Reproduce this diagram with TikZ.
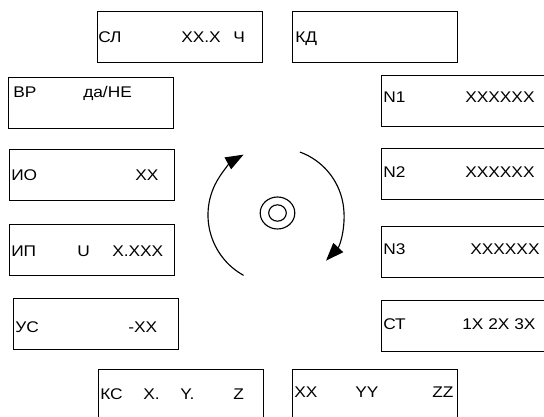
\documentclass[tikz,border=0pt]{standalone}
\usepackage{fontspec}
\setmainfont{Liberation Sans}
\usetikzlibrary{arrows.meta}
\newcommand\sx[1]{\scalebox{1.12}[1]{#1}}
\begin{document}
\begin{tikzpicture}[x={(0.75pt,0)},y={(0,-0.75pt)},
  panel/.style={draw, line width=0.85pt, rectangle, inner sep=0pt, minimum width=123.75pt, minimum height=38.25pt, anchor=north west},
  lbl/.style={inner sep=0pt, anchor=base west, font=\fontsize{11.6}{13}\selectfont},
  rot/.style={line width=0.85pt, -{Triangle[length=13.5pt,width=10pt]}},
  ring/.style={line width=0.85pt}]
\useasboundingbox[fill=white] (0,0) rectangle (544,417);
% panels
\node[panel] (sl) at (97,11) {};
\node[panel] (kd) at (292,11) {};
\node[panel] (vr) at (8,77) {};
\node[panel] (n1) at (381,75) {};
\node[panel] (io) at (9,149) {};
\node[panel] (n2) at (381,148) {};
\node[panel] (ip) at (9,224) {};
\node[panel] (n3) at (381,226) {};
\node[panel] (us) at (13,298) {};
\node[panel] (st) at (381,300) {};
\node[panel] (ks) at (98,369) {};
\node[panel] (xyz) at (292,369) {};
% labels
\node[lbl] (sl1) at (98,43) {\sx{СЛ}};
\node[lbl] (sl2) at (181,43) {\sx{XX.X}};
\node[lbl] (sl3) at (233,43) {\sx{Ч}};
\node[lbl] (vr1) at (13,98) {\sx{ВР}};
\node[lbl] (vr2) at (83,98) {\sx{да/НЕ}};
\node[lbl] (kd1) at (295,43) {\sx{КД}};
\node[lbl] (n11) at (383,103) {\sx{N1}};
\node[lbl] (n12) at (465,103) {\sx{XXXXXX}};
\node[lbl] (io1) at (11,181) {\sx{ИО}};
\node[lbl] (io2) at (135,181) {\sx{XX}};
\node[lbl] (n21) at (383,178) {\sx{N2}};
\node[lbl] (n22) at (465,178) {\sx{XXXXXX}};
\node[lbl] (ip1) at (11,257) {\sx{ИП}};
\node[lbl] (ip2) at (77,257) {\sx{U}};
\node[lbl] (ip3) at (112,257) {\sx{X.XXX}};
\node[lbl] (n31) at (383,255) {\sx{N3}};
\node[lbl] (n32) at (470,255) {\sx{XXXXXX}};
\node[lbl] (us1) at (15,333) {\sx{УС}};
\node[lbl] (us2) at (128,333) {\sx{-XX}};
\node[lbl] (st1) at (383,330) {\sx{СТ}};
\node[lbl] (st2) at (462,330) {\sx{1X 2X 3X}};
\node[lbl] (ks1) at (100,400) {\sx{КС}};
\node[lbl] (ks2) at (143,400) {\sx{X.}};
\node[lbl] (ks3) at (180,400) {\sx{Y.}};
\node[lbl] (ks4) at (233,400) {\sx{Z}};
\node[lbl] (xyz1) at (294,398) {\sx{XX}};
\node[lbl] (xyz2) at (355,398) {\sx{YY}};
\node[lbl] (xyz3) at (432,398) {\sx{ZZ}};
% centre symbol
\coordinate (c) at (277.5,213);
\draw[ring] (c) ellipse[x radius=17.3, y radius=16];
\draw[ring] (c) ellipse[x radius=8.8, y radius=8.2];
% rotation arrows
\coordinate (o) at (277,215);
\draw[rot] (o) ++(119:69) arc[start angle=119, end angle=241, radius=69];
\draw[rot] (o) ++(-70:67) arc[start angle=-70, end angle=43, radius=67];
\end{tikzpicture}
\end{document}
